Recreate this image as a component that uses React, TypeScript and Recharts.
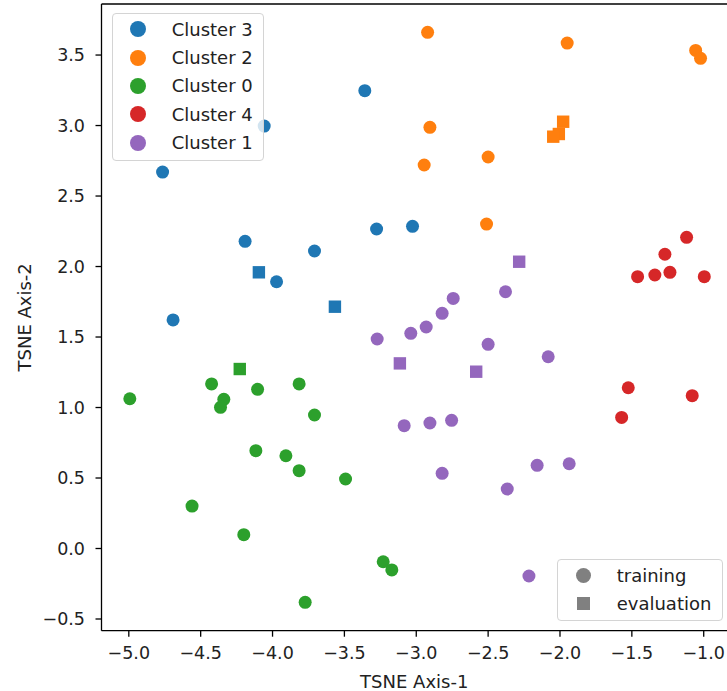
import { ScatterChart, Scatter, XAxis, YAxis, ReferenceLine, Legend, Label } from "recharts";

const X_TICKS = [-5.0, -4.5, -4.0, -3.5, -3.0, -2.5, -2.0, -1.5, -1.0];
const Y_TICKS = [-0.5, 0.0, 0.5, 1.0, 1.5, 2.0, 2.5, 3.0, 3.5];
const X_DOMAIN = [-5.19, -0.838];
const Y_DOMAIN = [-0.583, 3.862];

const CLUSTER_NAMES = ["Cluster 3", "Cluster 2", "Cluster 0", "Cluster 4", "Cluster 1"];
const CLUSTER_COLORS = ["#1f77b4", "#ff7f0e", "#2ca02c", "#d62728", "#9467bd"];
const SPLIT_NAMES = ["training", "evaluation"];

// [x, y] per point
const cluster3Training = [[-3.358, 3.247], [-4.058, 2.996], [-4.765, 2.67], [-4.191, 2.179], [-3.276, 2.266], [-3.026, 2.285], [-3.708, 2.11], [-3.972, 1.892], [-4.692, 1.621]];
const cluster3Evaluation = [[-4.095, 1.959], [-3.566, 1.715]];
const cluster2Training = [[-2.921, 3.661], [-1.95, 3.585], [-1.056, 3.533], [-1.022, 3.477], [-2.905, 2.987], [-2.945, 2.72], [-2.5, 2.777], [-2.511, 2.301]];
const cluster2Evaluation = [[-1.978, 3.027], [-2.008, 2.94], [-2.047, 2.921]];
const cluster0Training = [[-4.424, 1.167], [-4.104, 1.129], [-3.815, 1.167], [-4.993, 1.062], [-4.339, 1.058], [-4.362, 1.001], [-3.708, 0.947], [-4.116, 0.694], [-3.907, 0.658], [-3.815, 0.552], [-3.492, 0.493], [-4.56, 0.301], [-4.2, 0.098], [-3.23, -0.094], [-3.17, -0.152], [-3.773, -0.382]];
const cluster0Evaluation = [[-4.228, 1.273]];
const cluster4Training = [[-1.119, 2.207], [-1.27, 2.087], [-1.46, 1.928], [-1.34, 1.94], [-1.235, 1.959], [-0.996, 1.928], [-1.525, 1.14], [-1.08, 1.084], [-1.571, 0.93]];
const cluster4Evaluation: number[][] = [];
const cluster1Training = [[-2.379, 1.821], [-2.743, 1.774], [-2.82, 1.668], [-2.931, 1.571], [-3.038, 1.526], [-3.272, 1.486], [-2.5, 1.448], [-2.082, 1.36], [-3.084, 0.871], [-2.905, 0.89], [-2.754, 0.909], [-2.82, 0.533], [-2.159, 0.59], [-1.936, 0.601], [-2.367, 0.422], [-2.216, -0.195]];
const cluster1Evaluation = [[-2.284, 2.034], [-3.114, 1.313], [-2.583, 1.254]];

const TRAINING = [cluster3Training, cluster2Training, cluster0Training, cluster4Training, cluster1Training];
const EVALUATION = [cluster3Evaluation, cluster2Evaluation, cluster0Evaluation, cluster4Evaluation, cluster1Evaluation];

const FONT = "'DejaVu Sans', sans-serif";
const TEXT = "#222";
const GRAY = "#808080";

const toPoints = (pts: number[][]) => pts.map(([x, y]) => ({ x, y }));
const fmt = (v: number) => (v < 0 ? "\u2212" + Math.abs(v).toFixed(1) : v.toFixed(1));

const circleShape = (color: string) => (p: any) => <circle cx={p.cx} cy={p.cy} r={6.5} fill={color} />;
const squareShape = (color: string) => (p: any) => <rect x={p.cx - 6.2} y={p.cy - 6.2} width={12.4} height={12.4} fill={color} />;

const boxStyle: React.CSSProperties = {
  position: "absolute",
  boxSizing: "border-box",
  background: "rgba(255,255,255,0.8)",
  border: "1px solid #d4d4d4",
  borderRadius: 4,
  paddingTop: 1,
  fontFamily: FONT,
  fontSize: 18,
  color: TEXT,
};

function LegendRow({ marker, label }: { marker: React.ReactNode; label: string }) {
  return (
    <div style={{ display: "flex", alignItems: "center", height: 28.4 }}>
      <div style={{ width: 58.7, display: "flex", alignItems: "center" }}>
        <div style={{ marginLeft: 17.3, width: 16, height: 16, display: "flex", alignItems: "center", justifyContent: "center" }}>
          {marker}
        </div>
      </div>
      <span style={{ whiteSpace: "nowrap" }}>{label}</span>
    </div>
  );
}

function ClusterLegend() {
  return (
    <div style={{ ...boxStyle, position: "relative", width: 152, height: 148 }}>
      {CLUSTER_NAMES.map((name, i) => (
        <LegendRow
          key={name}
          label={name}
          marker={<div style={{ width: 16, height: 16, borderRadius: "50%", background: CLUSTER_COLORS[i] }} />}
        />
      ))}
    </div>
  );
}

function SplitLegend() {
  return (
    <div style={{ ...boxStyle, left: 557, top: 559, width: 166, height: 62 }}>
      <LegendRow label={SPLIT_NAMES[0]} marker={<div style={{ width: 15, height: 15, borderRadius: "50%", background: GRAY }} />} />
      <LegendRow label={SPLIT_NAMES[1]} marker={<div style={{ width: 13.5, height: 13.5, background: GRAY }} />} />
    </div>
  );
}

export default function App() {
  return (
    <div style={{ position: "relative", width: 727, height: 691, background: "#fff" }}>
      <style>{"body{margin:0}"}</style>
      <ScatterChart width={727} height={691} margin={{ top: 4, right: 0, bottom: 0, left: 0 }} style={{ fontFamily: FONT }}>
        <XAxis
          type="number"
          dataKey="x"
          domain={X_DOMAIN}
          ticks={X_TICKS}
          interval={0}
          allowDataOverflow
          height={60.3}
          tickSize={6}
          tickMargin={10}
          tickFormatter={fmt}
          tick={{ fill: TEXT, fontSize: 17.5, fontFamily: FONT }}
          axisLine={{ stroke: "#000", strokeWidth: 1.3 }}
          tickLine={{ stroke: "#000", strokeWidth: 1.3 }}
        >
          <Label
            content={({ viewBox }: any) => (
              <text x={viewBox.x + viewBox.width / 2} y={688} textAnchor="middle" fill={TEXT} fontSize={18} fontFamily={FONT}>
                TSNE Axis-1
              </text>
            )}
          />
        </XAxis>
        <YAxis
          type="number"
          dataKey="y"
          domain={Y_DOMAIN}
          ticks={Y_TICKS}
          interval={0}
          allowDataOverflow
          width={101.5}
          tickSize={6}
          tickMargin={10.5}
          tickFormatter={fmt}
          tick={{ fill: TEXT, fontSize: 17.5, fontFamily: FONT }}
          axisLine={{ stroke: "#000", strokeWidth: 1.3 }}
          tickLine={{ stroke: "#000", strokeWidth: 1.3 }}
        >
          <Label
            content={({ viewBox }: any) => {
              const cy = viewBox.y + viewBox.height / 2;
              return (
                <text x={31} y={cy} transform={`rotate(-90, 31, ${cy})`} textAnchor="middle" fill={TEXT} fontSize={18} fontFamily={FONT}>
                  TSNE Axis-2
                </text>
              );
            }}
          />
        </YAxis>
        <ReferenceLine y={Y_DOMAIN[1]} stroke="#000" strokeWidth={1.3} />
        {CLUSTER_NAMES.map((name, i) => (
          <Scatter
            key={name + "-train"}
            name={name}
            data={toPoints(TRAINING[i])}
            fill={CLUSTER_COLORS[i]}
            shape={circleShape(CLUSTER_COLORS[i])}
            isAnimationActive={false}
          />
        ))}
        {CLUSTER_NAMES.map((name, i) =>
          EVALUATION[i].length ? (
            <Scatter
              key={name + "-eval"}
              name={name + " eval"}
              legendType="none"
              data={toPoints(EVALUATION[i])}
              fill={CLUSTER_COLORS[i]}
              shape={squareShape(CLUSTER_COLORS[i])}
              isAnimationActive={false}
            />
          ) : null
        )}
        <Legend
          layout="vertical"
          align="center"
          verticalAlign="middle"
          wrapperStyle={{ left: 112, top: 13, width: 152, height: 148 }}
          content={() => <ClusterLegend />}
        />
      </ScatterChart>
      <SplitLegend />
    </div>
  );
}
